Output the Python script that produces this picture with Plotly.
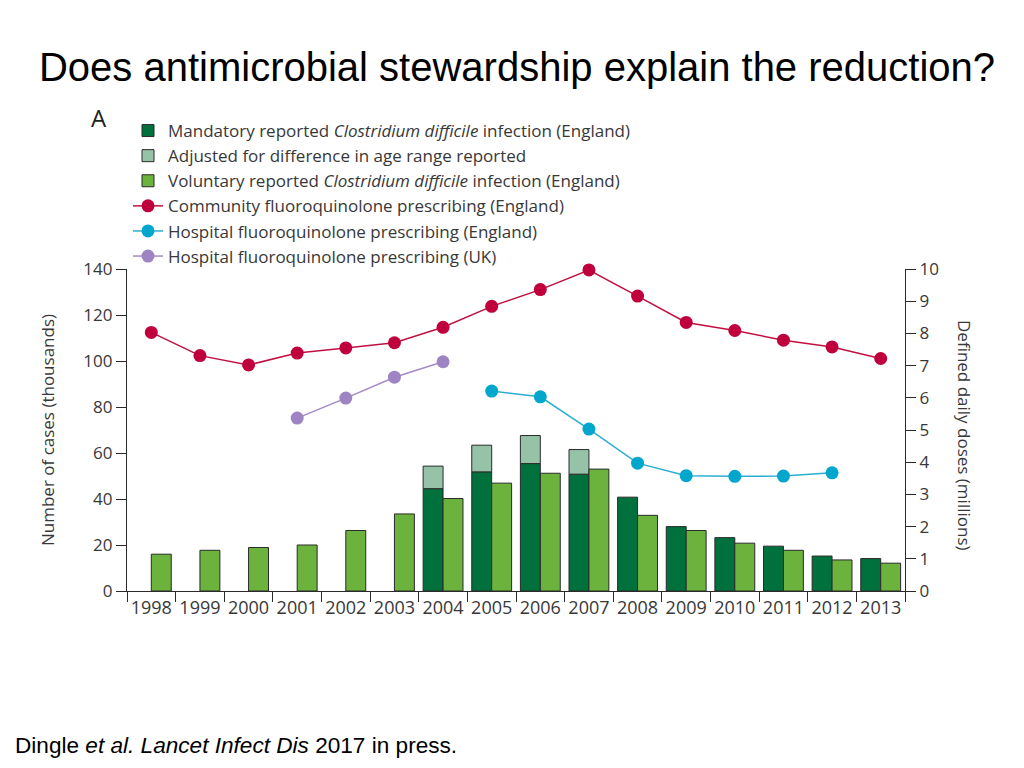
import plotly.graph_objects as go

years = [str(y) for y in range(1998, 2014)]

# Cases (thousands), left axis
mandatory = [None, None, None, None, None, None, 44.5, 51.8, 55.4, 50.8, 40.8, 28.0, 23.2, 19.5, 15.2, 14.1]
adjusted_extra = [None, None, None, None, None, None, 9.8, 11.6, 12.2, 10.7, None, None, None, None, None, None]
voluntary = [16.0, 17.7, 18.9, 20.0, 26.3, 33.5, 40.2, 46.9, 51.2, 53.0, 32.9, 26.3, 20.8, 17.7, 13.5, 12.1]

# Defined daily doses (millions), right axis
community_eng = [8.03, 7.31, 7.02, 7.39, 7.55, 7.71, 8.19, 8.84, 9.36, 9.97, 9.16, 8.34, 8.09, 7.79, 7.58, 7.22]
hospital_eng = [None, None, None, None, None, None, None, 6.21, 6.03, 5.03, 3.97, 3.58, 3.56, 3.57, 3.67, None]
hospital_uk = [None, None, None, 5.37, 5.99, 6.64, 7.12, None, None, None, None, None, None, None, None, None]

left_ticks = [0, 20, 40, 60, 80, 100, 120, 140]
right_ticks = [0, 1, 2, 3, 4, 5, 6, 7, 8, 9, 10]

FONT = "Open Sans"
TXT = "#383838"
EDGE = "#2a2a2a"

fig = go.Figure()

fig.add_trace(go.Bar(
    x=years, y=mandatory, offsetgroup="m",
    name="Mandatory reported <i>Clostridium difficile</i> infection (England)",
    marker=dict(color="#00703c", line=dict(color=EDGE, width=1)),
))
adj_base = [m if a is not None else None for m, a in zip(mandatory, adjusted_extra)]
fig.add_trace(go.Bar(
    x=years, y=adjusted_extra, base=adj_base, offsetgroup="m",
    name="Adjusted for difference in age range reported",
    marker=dict(color="#96c3a8", line=dict(color=EDGE, width=1)),
))
fig.add_trace(go.Bar(
    x=years, y=voluntary, offsetgroup="v",
    name="Voluntary reported <i>Clostridium difficile</i> infection (England)",
    marker=dict(color="#6cb33e", line=dict(color=EDGE, width=1)),
))

fig.add_trace(go.Scatter(
    x=years, y=community_eng, yaxis="y2", mode="lines+markers", cliponaxis=False,
    name="Community fluoroquinolone prescribing (England)",
    line=dict(color="#c0103f", width=1.5),
    marker=dict(color="#c0003c", size=13),
))
fig.add_trace(go.Scatter(
    x=years, y=hospital_eng, yaxis="y2", mode="lines+markers", cliponaxis=False,
    name="Hospital fluoroquinolone prescribing (England)",
    line=dict(color="#2aaed0", width=1.5),
    marker=dict(color="#00a6cc", size=13),
))
fig.add_trace(go.Scatter(
    x=years, y=hospital_uk, yaxis="y2", mode="lines+markers", cliponaxis=False,
    name="Hospital fluoroquinolone prescribing (UK)",
    line=dict(color="#a48ac8", width=1.5),
    marker=dict(color="#9f84c4", size=13),
))

L, R, T, B = 127, 119, 269, 177
PW = 1024 - L - R
PH = 768 - T - B

def px_x(px):
    return (px - L) / PW

def px_y(py):
    return (768 - B - py) / PH

fig.update_layout(
    width=1024, height=768,
    margin=dict(l=L, r=R, t=T, b=B, pad=0),
    paper_bgcolor="white", plot_bgcolor="white",
    font=dict(family=FONT, size=17, color=TXT),
    barmode="group", bargap=0.18, bargroupgap=0,
    showlegend=True,
    legend=dict(
        x=px_x(128), y=px_y(113), xanchor="left", yanchor="top",
        bgcolor="rgba(0,0,0,0)", font=dict(family=FONT, size=17, color=TXT),
        itemwidth=30, traceorder="normal",
    ),
    title=dict(
        text="Does antimicrobial stewardship explain the reduction?",
        font=dict(family="Liberation Sans", size=40, color="#000000"),
        x=517 / 1024, xref="container", xanchor="center",
        y=1 - 67 / 768, yref="container", yanchor="middle",
    ),
    xaxis=dict(
        type="category", tickson="boundaries", ticks="outside", ticklen=10,
        tickangle=0, range=[-0.5, len(years) - 0.5], autorange=False,
        tickcolor=EDGE, showline=True, linecolor=EDGE, linewidth=1.2,
        showgrid=False, zeroline=False, tickfont=dict(size=18, color=TXT),
    ),
    yaxis=dict(
        range=[0, 140], tickvals=left_ticks, ticks="outside", ticklen=10,
        tickcolor=EDGE, showline=True, linecolor=EDGE, linewidth=1.2,
        showgrid=False, zeroline=False, tickfont=dict(size=17, color=TXT),
    ),
    yaxis2=dict(
        range=[0, 10], tickvals=right_ticks, overlaying="y", side="right",
        ticks="outside", ticklen=10, tickcolor=EDGE, showline=True,
        linecolor=EDGE, linewidth=1.2, showgrid=False, zeroline=False,
        tickfont=dict(size=17, color=TXT),
    ),
    annotations=[
        dict(text="Number of cases (thousands)", xref="paper", yref="paper",
             x=px_x(47), y=px_y(430), textangle=-90, showarrow=False,
             font=dict(family=FONT, size=17, color=TXT),
             xanchor="center", yanchor="middle"),
        dict(text="Defined daily doses (millions)", xref="paper", yref="paper",
             x=px_x(965), y=px_y(435), textangle=90, showarrow=False,
             font=dict(family=FONT, size=17, color=TXT),
             xanchor="center", yanchor="middle"),
        dict(text="A", xref="paper", yref="paper", x=px_x(99), y=px_y(117),
             showarrow=False, font=dict(family=FONT, size=24, color="#222222"),
             xanchor="center", yanchor="middle"),
        dict(text="Dingle <i>et al. Lancet Infect Dis</i> 2017 in press.",
             xref="paper", yref="paper", x=px_x(13), y=px_y(745),
             showarrow=False, font=dict(family="Liberation Sans", size=22.6, color="#000000"),
             xanchor="left", yanchor="middle"),
    ],
)

fig.write_html("out.html", config={"displayModeBar": False},
               post_script="document.body.style.margin='0';")
